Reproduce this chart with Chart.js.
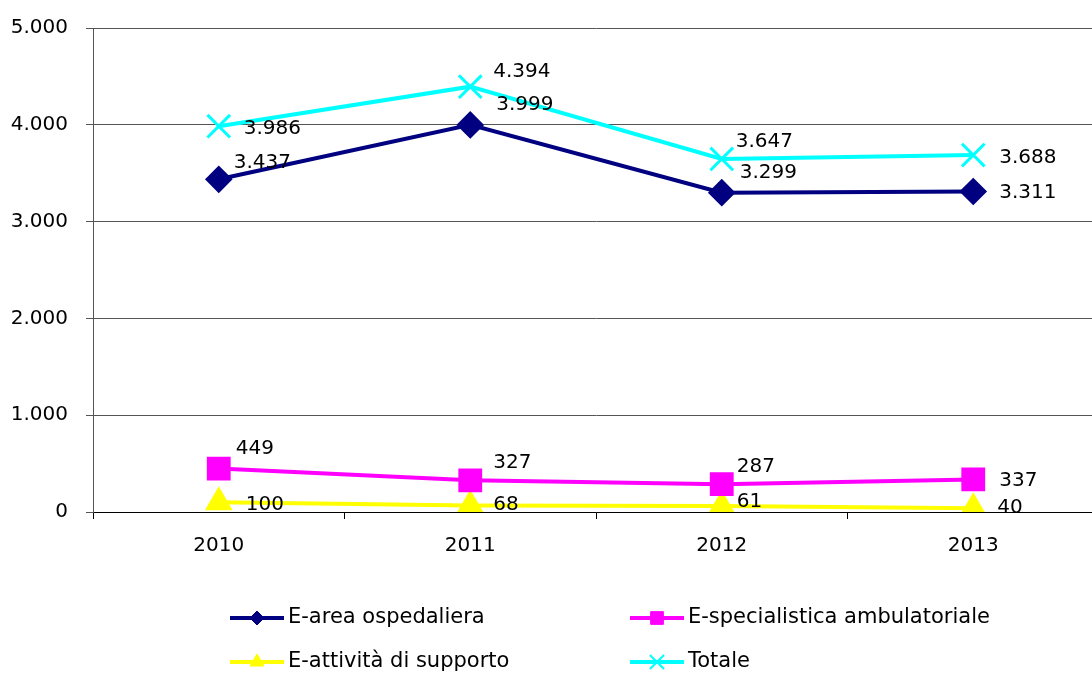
<!DOCTYPE html>
<html lang="it">
<head>
  <meta charset="UTF-8" />
  <title>Andamento 2010-2013</title>
  <script src="https://cdn.jsdelivr.net/npm/chart.js"></script>
  <style>
    body { margin: 0; background: #fff; overflow: hidden; }
    /* a bit wider than the window so the plot runs off the right edge like the original */
    .chart-container { position: relative; width: 1118px; height: 677px; }
  </style>
</head>
<body>
  <div class="chart-container">
    <canvas id="lineChart"></canvas>
  </div>
  <script>
    const years = ['2010', '2011', '2012', '2013'];
    const areaOspedaliera = [3437, 3999, 3299, 3311];
    const specialistica = [449, 327, 287, 337];
    const attivitaSupporto = [100, 68, 61, 40];
    const totale = [3986, 4394, 3647, 3688];
    const yTicks = [0, 1000, 2000, 3000, 4000, 5000];

    const FONT = 'DejaVu Sans, Verdana, sans-serif';

    function fmt(v) {
      return String(v).replace(/\B(?=(\d{3})+(?!\d))/g, '.');
    }

    // label offsets (dx, dy) from each point, per dataset
    const labelOffsets = [
      [[15, -17], [26, -20], [18, -20], [26, 1]],
      [[17, -20], [23, -18], [15, -17], [26, 1]],
      [[27, 2], [23, -1], [15, -4], [24, 0]],
      [[25, 3], [23, -15], [14, -17], [26, 3]]
    ];

    const dataLabels = {
      id: 'dataLabels',
      afterDatasetsDraw(chart) {
        const ctx = chart.ctx;
        ctx.save();
        ctx.font = '20px ' + FONT;
        ctx.fillStyle = '#000';
        ctx.textAlign = 'left';
        ctx.textBaseline = 'middle';
        chart.data.datasets.forEach((ds, di) => {
          chart.getDatasetMeta(di).data.forEach((pt, i) => {
            const off = labelOffsets[di][i];
            ctx.fillText(fmt(ds.data[i]), pt.x + off[0], pt.y + off[1]);
          });
        });
        ctx.restore();
      }
    };

    const legendSpots = [[230, 618], [630, 618], [230, 662], [630, 662]];
    const bottomLegend = {
      id: 'bottomLegend',
      afterDraw(chart) {
        const ctx = chart.ctx;
        ctx.save();
        chart.data.datasets.forEach((ds, i) => {
          const [x, y] = legendSpots[i];
          ctx.strokeStyle = ds.borderColor;
          ctx.lineWidth = 4;
          ctx.beginPath();
          ctx.moveTo(x, y);
          ctx.lineTo(x + 54, y);
          ctx.stroke();
          ctx.fillStyle = ds.pointBackgroundColor;
          ctx.strokeStyle = ds.pointBorderColor;
          ctx.lineWidth = ds.pointStyle === 'crossRot' ? 2 : 1;
          Chart.helpers.drawPoint(ctx, {
            pointStyle: ds.pointStyle,
            radius: ds.legendRadius,
            borderWidth: ctx.lineWidth,
            rotation: 0
          }, x + 27, y);
          ctx.fillStyle = '#000';
          ctx.font = '21px ' + FONT;
          ctx.textAlign = 'left';
          ctx.textBaseline = 'middle';
          ctx.fillText(ds.label, x + 58, y);
        });
        ctx.restore();
      }
    };

    const ctx = document.getElementById('lineChart').getContext('2d');
    const chart = new Chart(ctx, {
      type: 'line',
      data: {
        labels: years,
        datasets: [
          {
            label: 'E-area ospedaliera',
            data: areaOspedaliera,
            borderColor: '#000080',
            backgroundColor: '#000080',
            pointBackgroundColor: '#000080',
            pointBorderColor: '#000080',
            pointStyle: 'rectRot',
            pointRadius: 11,
            legendRadius: 7,
            borderWidth: 4,
            order: 3
          },
          {
            label: 'E-specialistica ambulatoriale',
            data: specialistica,
            borderColor: '#ff00ff',
            backgroundColor: '#ff00ff',
            pointBackgroundColor: '#ff00ff',
            pointBorderColor: '#ff00ff',
            pointStyle: 'rect',
            pointRadius: 14,
            legendRadius: 9,
            borderWidth: 4,
            order: 2
          },
          {
            label: 'E-attività di supporto',
            data: attivitaSupporto,
            borderColor: '#ffff00',
            backgroundColor: '#ffff00',
            pointBackgroundColor: '#ffff00',
            pointBorderColor: '#ffff00',
            pointStyle: 'triangle',
            pointRadius: 12,
            legendRadius: 8,
            borderWidth: 4,
            order: 4
          },
          {
            label: 'Totale',
            data: totale,
            borderColor: '#00ffff',
            backgroundColor: '#00ffff',
            pointBackgroundColor: '#00ffff',
            pointBorderColor: '#00ffff',
            pointStyle: 'crossRot',
            pointRadius: 16,
            pointBorderWidth: 3,
            legendRadius: 10,
            borderWidth: 4,
            order: 1
          }
        ]
      },
      options: {
        responsive: true,
        maintainAspectRatio: false,
        animation: false,
        layout: { padding: { top: 26, right: 0, left: 0, bottom: 0 } },
        plugins: {
          legend: { display: false },
          tooltip: { enabled: false }
        },
        elements: { line: { tension: 0 } },
        scales: {
          x: {
            offset: true,
            grid: {
              offset: true,
              drawOnChartArea: false,
              drawTicks: true,
              tickLength: 7,
              color: '#000'
            },
            border: { color: '#000', width: 1 },
            ticks: {
              color: '#000',
              font: { family: FONT, size: 20 },
              padding: 15,
              maxRotation: 0
            },
            afterFit(scale) { scale.height = 165; }
          },
          y: {
            min: 0,
            max: 5000,
            afterBuildTicks(scale) {
              scale.ticks = yTicks.map(v => ({ value: v }));
            },
            grid: {
              color: '#555',
              lineWidth: 1,
              tickLength: 7
            },
            border: { color: '#555', width: 1 },
            ticks: {
              color: '#000',
              font: { family: FONT, size: 20, lineHeight: 1 },
              padding: 18,
              callback: v => fmt(v)
            },
            afterFit(scale) { scale.width = 93; }
          }
        }
      },
      plugins: [dataLabels, bottomLegend]
    });
  </script>
</body>
</html>
